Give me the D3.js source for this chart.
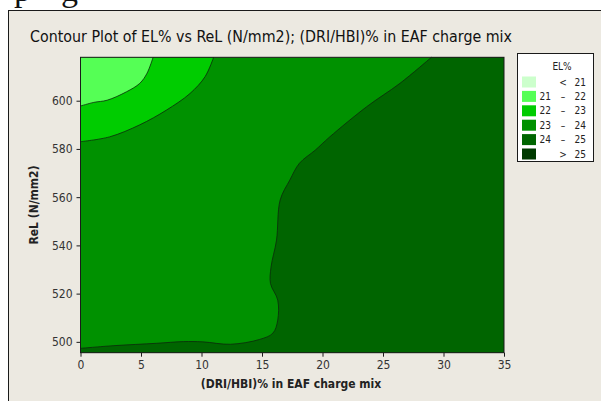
<!DOCTYPE html>
<html><head><meta charset="utf-8">
<script src="https://cdn.jsdelivr.net/npm/d3@7"></script>
<style>html,body{margin:0;padding:0;background:#fff;}svg{display:block;}</style>
</head><body>
<script>
// ---- data ----
const xTicks = [0, 5, 10, 15, 20, 25, 30, 35];
const yTicks = [500, 520, 540, 560, 580, 600];
const xDomain = [0, 35];
const yDomain = [495.5, 618];
const legendLabels = [["", "<", "21"], ["21", "\u2013", "22"], ["22", "\u2013", "23"], ["23", "\u2013", "24"], ["24", "\u2013", "25"], ["", ">", "25"]];
const levelColors = ["#ccffcc", "#55ff55", "#00cc00", "#009100", "#006500", "#003a00"];
// contour boundaries [DRI%, ReL]
const contour22 = [[0,597.8],[1.1,599.3],[2.2,600.2],[3.8,603.7],[4.9,607.2],[5.5,611.4],[6.0,618]];
const contour23 = [[0,583],[2.4,585],[4.9,590],[7.1,596.1],[9.05,603],[10.3,610],[11.0,618]];
const contour24 = [[29.0,618],[26.4,607.2],[23.65,597.5],[20.6,585],[19.4,579.5],[18.1,574.1],[17.3,567.1],[16.5,558.8],[16.2,542.2],[15.75,531.1],[15.7,524.2],[16.3,517.3],[16.3,509],[15.9,503.6],[14.8,501],[12.4,499.0],[10.1,500],[8.5,500.1],[6.3,499.4],[2.7,498.4],[0,497.3]];

const W = 601, H = 401;
const svg = d3.select("body").append("svg").attr("width", W).attr("height", H);
const font = "'DejaVu Sans Condensed','DejaVu Sans',sans-serif";

svg.append("rect").attr("width", W).attr("height", H).attr("fill", "#fff");
// cropped document text above the frame
svg.append("text").attr("x", 14).attr("y", 1).attr("font-family", "'Liberation Serif',serif").attr("font-size", 34).attr("fill", "#111").text("p");
svg.append("text").attr("x", 61).attr("y", 1).attr("font-family", "'Liberation Serif',serif").attr("font-size", 34).attr("fill", "#111").text("g");
// frame
svg.append("rect").attr("x", 8.5).attr("y", 10.5).attr("width", 700).attr("height", 500)
  .attr("fill", "#ece9e1").attr("stroke", "#1a1a1a");

svg.append("text").attr("x", 30).attr("y", 42)
  .attr("textLength", 482).attr("lengthAdjust", "spacingAndGlyphs")
  .attr("font-family", font).attr("font-size", 15.5).attr("fill", "#111")
  .text("Contour Plot of EL% vs ReL (N/mm2); (DRI/HBI)% in EAF charge mix");

const x = d3.scaleLinear().domain(xDomain).range([80.5, 504]);
const y = d3.scaleLinear().domain(yDomain).range([352.7, 57.3]);

const plot = svg.append("g");
plot.append("rect").attr("x", x(xDomain[0])).attr("y", y(yDomain[1]))
  .attr("width", x(xDomain[1]) - x(xDomain[0])).attr("height", y(yDomain[0]) - y(yDomain[1]))
  .attr("fill", levelColors[3]);

const line = d3.line().x(d => x(d[0])).y(d => y(d[1])).curve(d3.curveCatmullRom);
const pt = (a, b) => "L" + x(a) + "," + y(b);

// 24-25 region (right + bottom strip)
plot.append("path")
  .attr("d", line(contour24) + pt(xDomain[0], yDomain[0]) + pt(xDomain[1], yDomain[0]) + pt(xDomain[1], yDomain[1]) + "Z")
  .attr("fill", levelColors[4]);
// 22-23 region
plot.append("path").attr("d", line(contour23) + pt(xDomain[0], yDomain[1]) + "Z").attr("fill", levelColors[2]);
// 21-22 region
plot.append("path").attr("d", line(contour22) + pt(xDomain[0], yDomain[1]) + "Z").attr("fill", levelColors[1]);

[contour22, contour23, contour24].forEach(c => {
  plot.append("path").attr("d", line(c)).attr("fill", "none").attr("stroke", "#0b2a0b").attr("stroke-width", 0.8);
});

plot.append("rect").attr("x", x(xDomain[0])).attr("y", y(yDomain[1]))
  .attr("width", x(xDomain[1]) - x(xDomain[0])).attr("height", y(yDomain[0]) - y(yDomain[1]))
  .attr("fill", "none").attr("stroke", "#1a1a1a").attr("stroke-width", 1);

const xAxis = svg.append("g").attr("transform", `translate(0,${y(yDomain[0])})`)
  .call(d3.axisBottom(x).tickValues(xTicks).tickSize(4).tickPadding(4));
const yAxis = svg.append("g").attr("transform", `translate(${x(xDomain[0])},0)`)
  .call(d3.axisLeft(y).tickValues(yTicks).tickSize(4).tickPadding(4));
[xAxis, yAxis].forEach(a => {
  a.select(".domain").remove();
  a.selectAll("line").attr("stroke", "#1a1a1a");
  a.selectAll("text").attr("font-family", font).attr("font-size", 12).attr("fill", "#333");
});

svg.append("text").attr("x", 291).attr("y", 388).attr("text-anchor", "middle")
  .attr("font-family", font).attr("font-size", 12).attr("font-weight", "bold").attr("fill", "#222")
  .text("(DRI/HBI)% in EAF charge mix");
svg.append("text").attr("transform", "translate(38,205) rotate(-90)").attr("text-anchor", "middle")
  .attr("font-family", font).attr("font-size", 12).attr("font-weight", "bold").attr("fill", "#222")
  .text("ReL (N/mm2)");

// legend
const lg = svg.append("g");
lg.append("rect").attr("x", 517.5).attr("y", 53.5).attr("width", 76).attr("height", 108)
  .attr("fill", "#fff").attr("stroke", "#1a1a1a");
lg.append("text").attr("x", 562).attr("y", 70).attr("text-anchor", "middle")
  .attr("font-family", font).attr("font-size", 10).attr("fill", "#222").text("EL%");
legendLabels.forEach((lab, i) => {
  const cy = 82 + i * 14.4;
  lg.append("rect").attr("x", 522).attr("y", cy - 5.5).attr("width", 14).attr("height", 11).attr("fill", levelColors[i]);
  const t = (xx, anchor, s) => lg.append("text").attr("x", xx).attr("y", cy + 3.5).attr("text-anchor", anchor)
    .attr("font-family", font).attr("font-size", 10).attr("fill", "#222").text(s);
  t(551, "end", lab[0]); t(563, "middle", lab[1]); t(586, "end", lab[2]);
});
</script>
</body></html>
